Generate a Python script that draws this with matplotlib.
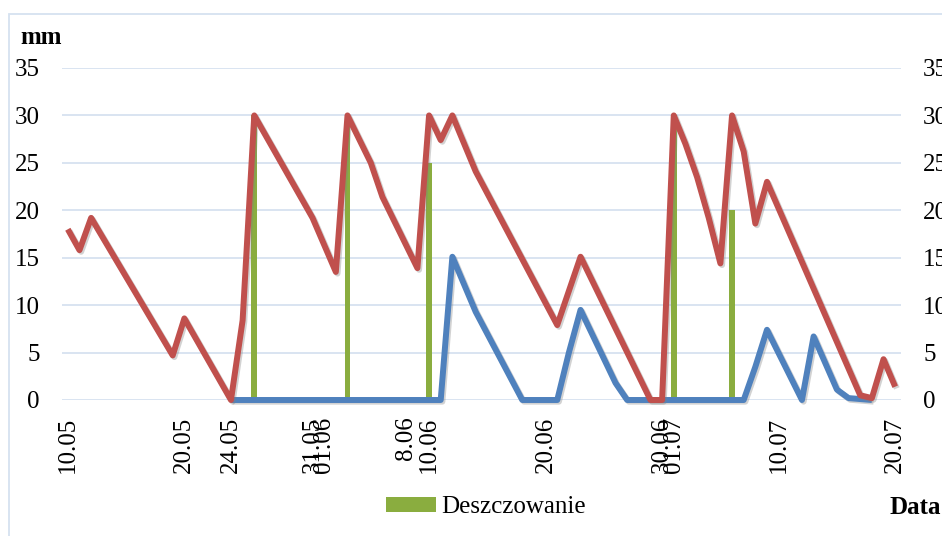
import matplotlib
matplotlib.use('Agg')
import matplotlib.pyplot as plt
import matplotlib.dates as mdates
import matplotlib.patheffects as pe
from matplotlib.patches import Rectangle
from datetime import date

plt.rcParams['font.family'] = ['Liberation Serif', 'DejaVu Serif']

YEAR = 2014


def to_date(s):
    day, mon = s.split('.')
    return date(YEAR, int(mon), int(day))


# ── Data (dd.mm, mm) ──────────────────────────────────────────────────────────
red_days = ['10.05', '11.05', '12.05', '19.05', '20.05', '24.05', '25.05', '26.05',
            '31.05', '02.06', '03.06', '05.06', '06.06', '09.06', '10.06', '11.06',
            '12.06', '14.06', '21.06', '23.06', '29.06', '30.06', '01.07', '02.07',
            '03.07', '04.07', '05.07', '06.07', '07.07', '08.07', '09.07', '17.07',
            '18.07', '19.07', '20.07']
red_vals = [18.0, 15.8, 19.2, 4.7, 8.6, 0.0, 8.4, 30.0,
            19.2, 13.5, 30.0, 25.0, 21.4, 13.9, 30.0, 27.4,
            30.0, 24.1, 7.9, 15.1, 0.0, 0.0, 30.0, 27.0,
            23.5, 19.2, 14.4, 30.0, 26.2, 18.6, 23.0, 0.5,
            0.2, 4.3, 1.4]

blue_days = ['24.05', '11.06', '12.06', '14.06', '18.06', '21.06', '22.06', '23.06',
             '26.06', '27.06', '07.07', '08.07', '09.07', '12.07', '13.07', '15.07',
             '16.07', '18.07']
blue_vals = [0.0, 0.0, 15.1, 9.3, 0.0, 0.0, 5.0, 9.5,
             1.8, 0.0, 0.0, 3.5, 7.4, 0.0, 6.7, 1.1,
             0.2, 0.0]

irr_days = ['26.05', '03.06', '10.06', '01.07', '06.07']
irr_vals = [30, 30, 25, 30, 20]

tick_days = ['10.05', '20.05', '24.05', '31.05', '01.06', '08.06', '10.06',
             '20.06', '30.06', '01.07', '10.07', '20.07']
tick_labels = ['10.05', '20.05', '24.05', '31.05', '01.06', '8.06', '10.06',
               '20.06', '30.06', '01.07', '10.07', '20.07']

RED = '#C0504D'
BLUE = '#4F81BD'
GREEN = '#8AAD3F'
GRID = '#D9E4F1'
FS = 18

fig = plt.figure(figsize=(9.42, 5.36), dpi=100, facecolor='white')
ax = fig.add_axes([62 / 942, 1 - 400 / 536, (901 - 62) / 942, (400 - 68) / 536])

shadow = [pe.SimpleLineShadow(offset=(1.2, -1.2), shadow_color='#808080', alpha=0.35),
          pe.Normal()]

bars = ax.bar([to_date(s) for s in irr_days], irr_vals, width=0.5,
              color=GREEN, zorder=2, label='Deszczowanie')
ax.plot([to_date(s) for s in blue_days], blue_vals, color=BLUE, lw=4.3,
        solid_joinstyle='round', solid_capstyle='butt', zorder=3,
        clip_on=False, path_effects=shadow)
ax.plot([to_date(s) for s in red_days], red_vals, color=RED, lw=4.3,
        solid_joinstyle='round', solid_capstyle='butt', zorder=4,
        clip_on=False, path_effects=shadow)

# ── Axes style ────────────────────────────────────────────────────────────────
ax.set_xlim(mdates.date2num(to_date('10.05')) - 0.5,
            mdates.date2num(to_date('20.07')) + 0.5)
ax.set_ylim(0, 35)
ax.set_yticks(range(0, 36, 5))
ax.set_xticks([to_date(s) for s in tick_days])
ax.set_xticklabels(tick_labels, rotation=90)
ax.grid(axis='y', color=GRID, lw=1.4)
ax.set_axisbelow(True)
for sp in ax.spines.values():
    sp.set_visible(False)
ax.tick_params(axis='y', length=0, pad=16, labelsize=FS, labelright=True)
ax.tick_params(axis='x', length=0, pad=12, labelsize=FS)

fig.text(20 / 942, 1 - 37 / 536, 'mm', fontsize=FS, fontweight='bold',
         ha='left', va='center')
fig.text(890 / 942, 1 - 507 / 536, 'Data', fontsize=FS, fontweight='bold',
         ha='left', va='center')

fig.legend(handles=[bars], labels=['Deszczowanie'], loc='center left',
           bbox_to_anchor=(386 / 942, 1 - 507 / 536), frameon=False,
           fontsize=FS, handlelength=2.0, handleheight=0.55, handletextpad=0.2,
           borderpad=0, borderaxespad=0)

fig.add_artist(Rectangle((9 / 942, -0.2), 1.5, 1 - 14 / 536 + 0.2,
                         transform=fig.transFigure, fill=False,
                         ec='#D6E2F0', lw=1.3))

fig.savefig('out.png', dpi=100)
